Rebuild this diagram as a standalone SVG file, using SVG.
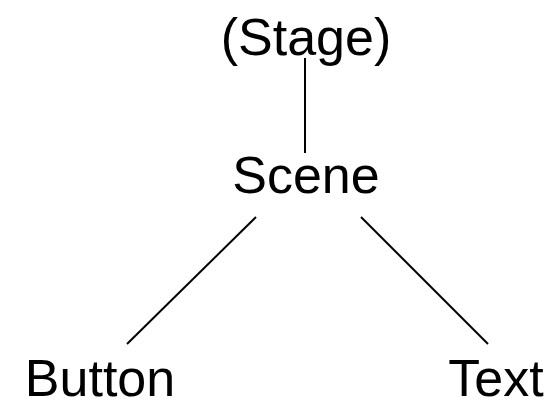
<svg xmlns="http://www.w3.org/2000/svg" width="558" height="406" viewBox="0 0 558 406">
<style>
text{font-family:"Liberation Sans",Arial,sans-serif;font-size:52px;fill:#000;text-anchor:middle}
.c line{stroke:#000;stroke-width:2}
</style>
<rect width="558" height="406" fill="#fff"/>
<g class="c" id="connectors">
<line x1="305" y1="58" x2="305" y2="153"/>
<line x1="256" y1="217" x2="127" y2="344"/>
<line x1="361" y1="217" x2="488" y2="344"/>
</g>
<g id="stage"><text x="306" y="55">(Stage)</text></g>
<g id="scene"><text x="306" y="193">Scene</text></g>
<g id="button"><text x="100" y="396">Button</text></g>
<g id="text"><text x="496" y="396">Text</text></g>
</svg>
